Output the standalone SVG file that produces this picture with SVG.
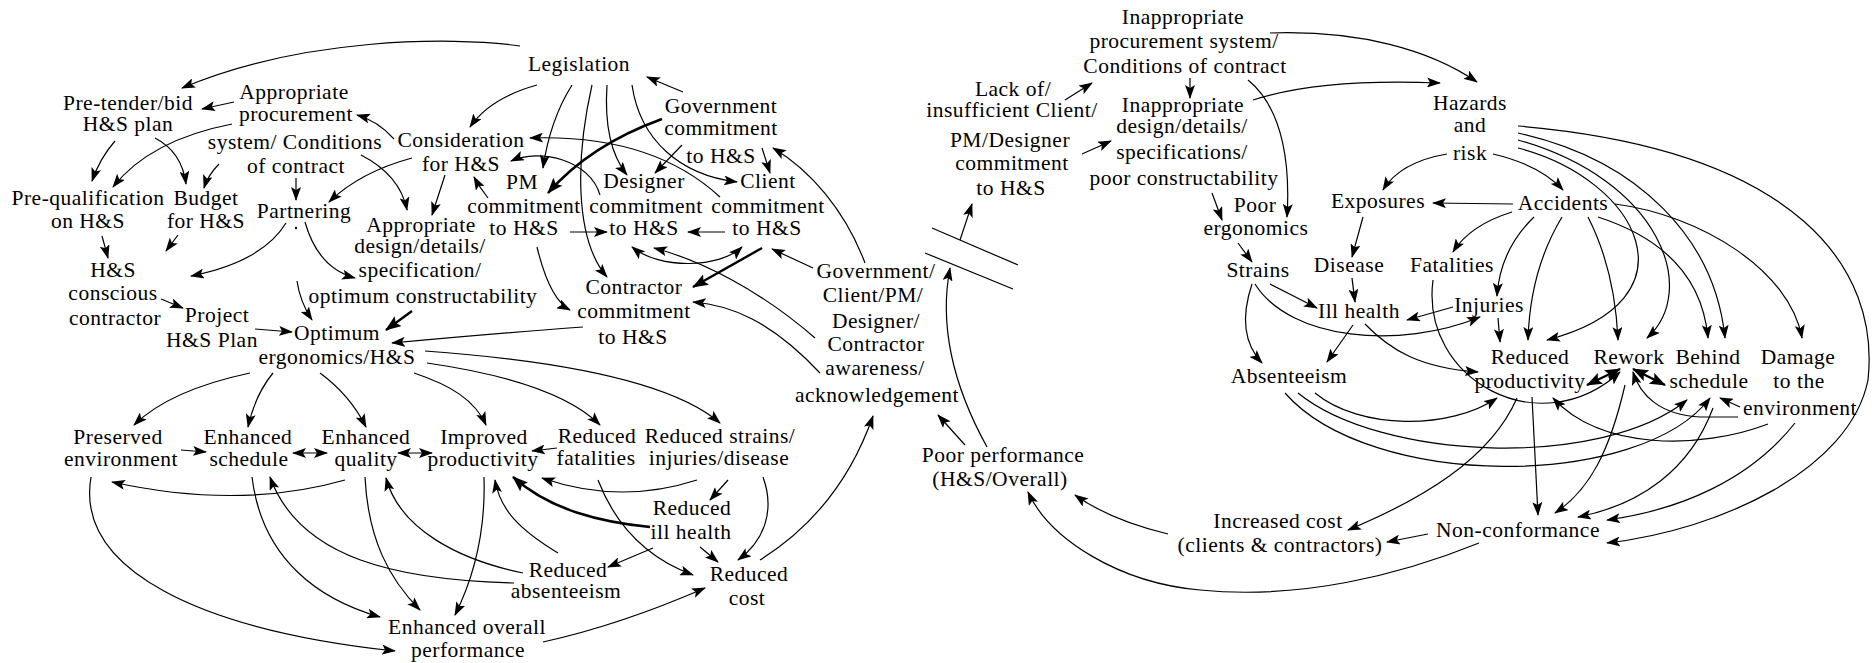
<svg xmlns="http://www.w3.org/2000/svg" width="1876" height="663" viewBox="0 0 1876 663">
<defs>
<marker id="a" viewBox="0 0 14 10" refX="13" refY="5" markerWidth="14" markerHeight="10" markerUnits="userSpaceOnUse" orient="auto-start-reverse"><path d="M0,0 L14,5 L0,10 L3,5 z" fill="#000"/></marker>
<marker id="ab" viewBox="0 0 16 12" refX="15" refY="6" markerWidth="16" markerHeight="12" markerUnits="userSpaceOnUse" orient="auto-start-reverse"><path d="M0,0 L16,6 L0,12 L3,6 z" fill="#000"/></marker>
<style>
text{font-family:"Liberation Serif","Times New Roman",serif;font-size:21.5px;letter-spacing:0.5px;text-anchor:middle;fill:#000}
.e{fill:none;stroke:#000;stroke-width:1.2;marker-end:url(#a)}
.b{fill:none;stroke:#000;stroke-width:2.4;marker-end:url(#ab)}
.d{marker-start:url(#a)}
.db{marker-start:url(#ab)}
.p{fill:none;stroke:#000;stroke-width:1.2}
</style>
</defs>
<rect width="1876" height="663" fill="#fff"/>
<g id="connectors">
<path class="e" d="M520,46 C450,36 300,38 182,88"/>
<path class="e" d="M234,102 L202,109"/>
<path class="e" d="M232,124 Q150,140 113,187"/>
<path class="e" d="M115,141 Q100,158 92,181"/>
<path class="e" d="M155,138 Q182,152 186,184"/>
<path class="e" d="M219,164 Q208,175 204,188"/>
<path class="e" d="M296,178 L296,200"/>
<path class="e" d="M394,139 Q378,121 357,115"/>
<path class="e" d="M361,155 Q400,175 407,210"/>
<path class="e" d="M412,158 Q360,172 329,202"/>
<path class="e" d="M445,175 L432,215"/>
<path class="e" d="M537,85 Q490,98 470,127"/>
<path class="e" d="M286,223 Q262,262 191,276"/>
<path class="e" d="M305,222 Q318,268 355,278"/>
<path class="e" d="M102,236 L108,258"/>
<path class="e" d="M178,235 L166,251"/>
<path class="e" d="M161,299 L183,308"/>
<circle cx="296" cy="228" r="1.2" fill="#000"/>
<path class="e" d="M297,281 Q300,302 312,320"/>
<path class="e" d="M255,329 L292,332"/>
<path class="b" d="M412,311 L386,330"/>
<path class="e" d="M583,327 Q500,333 392,343"/>
<path class="e" d="M683,92 L647,77"/>
<path class="e" d="M572,85 Q550,120 543,168"/>
<path class="e" d="M592,85 C575,160 575,240 607,277"/>
<path class="e" d="M607,85 Q603,145 627,175"/>
<path class="e" d="M632,85 C640,140 680,175 737,182"/>
<path class="b" d="M662,119 Q590,145 548,193"/>
<path class="e" d="M682,145 L655,173"/>
<path class="e" d="M762,148 L770,173"/>
<path class="e" d="M720,197 C680,160 620,135 530,138"/>
<path class="e" d="M600,195 C590,160 540,148 511,161"/>
<path class="e" d="M488,198 Q480,188 474,177"/>
<path class="e" d="M570,232 L607,232"/>
<path class="e" d="M725,232 L688,232"/>
<path class="e d" d="M632,247 C660,270 720,268 742,247"/>
<path class="b" d="M762,248 L693,287"/>
<path class="e" d="M813,268 L772,249"/>
<path class="e" d="M815,338 C760,290 700,260 654,248"/>
<path class="e" d="M820,373 C770,320 730,305 693,302"/>
<path class="e" d="M865,263 C845,210 810,170 773,148"/>
<path class="e" d="M537,247 C545,280 555,302 570,310"/>
<path class="e" d="M425,351 C550,360 670,380 720,423"/>
<path class="e" d="M427,363 C510,375 570,395 600,425"/>
<path class="e" d="M414,373 C450,385 475,400 486,425"/>
<path class="e" d="M320,373 Q350,395 366,427"/>
<path class="e" d="M273,373 Q255,395 248,427"/>
<path class="e" d="M250,373 Q170,390 134,425"/>
<path class="e" d="M181,450 L206,452"/>
<path class="e d" d="M293,453 L327,453"/>
<path class="e d" d="M398,453 L432,453"/>
<path class="e" d="M557,448 L532,451"/>
<path class="e" d="M345,480 Q240,510 112,482"/>
<path class="e" d="M91,477 C75,570 200,630 395,651"/>
<path class="e" d="M252,477 C262,560 320,600 380,617"/>
<path class="e" d="M365,477 C368,540 390,580 420,610"/>
<path class="e" d="M484,477 C486,540 470,585 455,615"/>
<path class="e" d="M523,573 C460,560 400,530 386,478"/>
<path class="e" d="M514,583 C400,580 300,560 270,477"/>
<path class="e" d="M558,553 C520,530 500,510 495,480"/>
<path class="b" d="M650,527 C600,522 550,510 513,477"/>
<path class="e" d="M697,480 Q620,505 542,478"/>
<path class="e" d="M598,480 Q625,550 693,575"/>
<path class="e" d="M728,480 L710,500"/>
<path class="e" d="M763,477 C775,510 765,540 738,560"/>
<path class="e" d="M700,547 L718,562"/>
<path class="e" d="M653,548 L608,567"/>
<path class="e" d="M543,642 Q620,625 705,588"/>
<path class="e" d="M760,560 Q840,510 873,416"/>
<path class="e" d="M965,445 L938,415"/>
<path class="e" d="M987,447 C950,380 940,320 950,268"/>
<path class="p" d="M932,228 L1018,265"/>
<path class="p" d="M925,253 L1013,289"/>
<path class="e" d="M960,240 L972,204"/>
<path class="e" d="M1065,100 L1092,83"/>
<path class="e" d="M1082,154 L1111,141"/>
<path class="e" d="M1190,78 L1190,98"/>
<path class="e" d="M1248,80 C1285,110 1290,170 1287,217"/>
<path class="e" d="M1212,193 L1222,220"/>
<path class="e" d="M1238,243 L1252,262"/>
<path class="e" d="M1270,33 C1360,30 1430,50 1477,82"/>
<path class="e" d="M1253,100 Q1320,78 1440,83"/>
<path class="e" d="M1447,154 Q1400,162 1383,190"/>
<path class="e" d="M1493,154 Q1540,165 1563,190"/>
<path class="e" d="M1513,204 L1433,203"/>
<path class="e" d="M1512,212 Q1470,225 1453,252"/>
<path class="e" d="M1534,217 Q1500,250 1497,296"/>
<path class="e" d="M1498,318 L1500,342"/>
<path class="e" d="M1562,217 Q1530,270 1528,340"/>
<path class="e" d="M1518,148 C1640,180 1700,300 1547,340"/>
<path class="e" d="M1588,217 Q1615,270 1618,340"/>
<path class="e" d="M1518,140 C1660,180 1700,290 1647,338"/>
<path class="e" d="M1598,217 Q1700,250 1708,338"/>
<path class="e" d="M1518,133 C1640,160 1715,240 1725,338"/>
<path class="e" d="M1615,204 C1700,215 1790,270 1802,338"/>
<path class="e" d="M1518,126 C1800,150 1880,270 1868,380 C1850,470 1720,530 1607,543"/>
<path class="b db" d="M1587,385 L1620,369"/>
<path class="b db" d="M1633,369 L1665,385"/>
<path class="e" d="M1532,397 L1538,515"/>
<path class="e" d="M1625,385 C1610,450 1590,490 1555,513"/>
<path class="e" d="M1713,408 C1690,470 1640,505 1578,517"/>
<path class="e" d="M1795,423 C1750,480 1680,510 1607,520"/>
<path class="e" d="M1428,534 L1387,542"/>
<path class="e" d="M1479,543 C1400,575 1300,600 1200,590 C1120,583 1050,540 1028,492"/>
<path class="e" d="M1168,534 Q1110,520 1075,495"/>
<path class="e" d="M1517,398 C1490,460 1420,500 1348,530"/>
<path class="e" d="M1365,324 C1390,350 1420,368 1478,372"/>
<path class="e" d="M1255,284 C1290,340 1400,350 1480,317"/>
<path class="e" d="M1270,284 L1317,308"/>
<path class="e" d="M1252,284 C1240,320 1245,345 1262,363"/>
<path class="e" d="M1363,217 L1352,257"/>
<path class="e" d="M1352,278 L1355,302"/>
<path class="e" d="M1453,307 L1407,320"/>
<path class="e" d="M1353,325 L1327,362"/>
<path class="e" d="M1740,407 L1720,398"/>
<path class="e" d="M1738,417 L1700,417 C1660,415 1640,395 1633,372"/>
<path class="e" d="M1768,424 C1700,450 1600,450 1553,398"/>
<path class="e" d="M1315,393 C1360,430 1450,430 1497,398"/>
<path class="e" d="M1298,393 C1380,460 1600,470 1687,400"/>
<path class="e" d="M1285,393 C1370,490 1640,490 1710,398"/>
<path class="e" d="M1433,280 C1420,380 1540,445 1620,372"/>
</g>
<g id="n_legislation"><text x="579" y="71">Legislation</text></g>
<g id="n_pretender"><text x="128" y="110">Pre-tender/bid</text><text x="128" y="131">H&amp;S plan</text></g>
<g id="n_approc"><text x="294" y="99">Appropriate</text><text x="296" y="121">procurement</text><text x="295" y="149">system/ Conditions</text><text x="296" y="173">of contract</text></g>
<g id="n_consid"><text x="461" y="147">Consideration</text><text x="461" y="171">for H&amp;S</text></g>
<g id="n_prequal"><text x="88" y="205">Pre-qualification</text><text x="88" y="228">on H&amp;S</text></g>
<g id="n_budget"><text x="206" y="205">Budget</text><text x="206" y="228">for H&amp;S</text></g>
<g id="n_partnering"><text x="304" y="218">Partnering</text></g>
<g id="n_appdesign"><text x="421" y="232">Appropriate</text><text x="420" y="253">design/details/</text><text x="420" y="277">specification/</text><text x="423" y="303">optimum constructability</text></g>
<g id="n_hsconscious"><text x="113" y="277">H&amp;S</text><text x="113" y="300">conscious</text><text x="115" y="325">contractor</text></g>
<g id="n_project"><text x="217" y="322">Project</text><text x="212" y="347">H&amp;S Plan</text></g>
<g id="n_optimum"><text x="337" y="340">Optimum</text><text x="337" y="364">ergonomics/H&amp;S</text></g>
<g id="n_govcommit"><text x="721" y="113">Government</text><text x="721" y="135">commitment</text><text x="721" y="163">to H&amp;S</text></g>
<g id="n_pm"><text x="522" y="189">PM</text><text x="524" y="213">commitment</text><text x="524" y="235">to H&amp;S</text></g>
<g id="n_designer"><text x="644" y="188">Designer</text><text x="646" y="213">commitment</text><text x="644" y="235">to H&amp;S</text></g>
<g id="n_client"><text x="768" y="188">Client</text><text x="768" y="213">commitment</text><text x="767" y="235">to H&amp;S</text></g>
<g id="n_contractor"><text x="634" y="294">Contractor</text><text x="634" y="318">commitment</text><text x="633" y="344">to H&amp;S</text></g>
<g id="n_awareness"><text x="876" y="278">Government/</text><text x="873" y="302">Client/PM/</text><text x="876" y="328">Designer/</text><text x="876" y="351">Contractor</text><text x="875" y="375">awareness/</text><text x="877" y="402">acknowledgement</text></g>
<g id="n_preserved"><text x="118" y="444">Preserved</text><text x="121" y="466">environment</text></g>
<g id="n_enhsched"><text x="248" y="444">Enhanced</text><text x="249" y="466">schedule</text></g>
<g id="n_enhqual"><text x="366" y="444">Enhanced</text><text x="366" y="466">quality</text></g>
<g id="n_improd"><text x="484" y="444">Improved</text><text x="483" y="466">productivity</text></g>
<g id="n_redfat"><text x="597" y="443">Reduced</text><text x="596" y="465">fatalities</text></g>
<g id="n_redstrain"><text x="720" y="443">Reduced strains/</text><text x="719" y="465">injuries/disease</text></g>
<g id="n_redill"><text x="692" y="515">Reduced</text><text x="691" y="539">ill health</text></g>
<g id="n_redabs"><text x="568" y="577">Reduced</text><text x="566" y="598">absenteeism</text></g>
<g id="n_redcost"><text x="749" y="581">Reduced</text><text x="747" y="605">cost</text></g>
<g id="n_enhoverall"><text x="467" y="634">Enhanced overall</text><text x="468" y="657">performance</text></g>
<g id="n_poorperf"><text x="1003" y="462">Poor performance</text><text x="1000" y="486">(H&amp;S/Overall)</text></g>
<g id="n_lack"><text x="1013" y="96">Lack of/</text><text x="1012" y="117">insufficient Client/</text><text x="1010" y="147">PM/Designer</text><text x="1012" y="170">commitment</text><text x="1011" y="195">to H&amp;S</text></g>
<g id="n_inproc"><text x="1183" y="24">Inappropriate</text><text x="1184" y="48">procurement system/</text><text x="1185" y="73">Conditions of contract</text></g>
<g id="n_indesign"><text x="1183" y="112">Inappropriate</text><text x="1182" y="133">design/details/</text><text x="1182" y="159">specifications/</text><text x="1184" y="185">poor constructability</text></g>
<g id="n_poorergo"><text x="1255" y="212">Poor</text><text x="1256" y="235">ergonomics</text></g>
<g id="n_strains"><text x="1258" y="277">Strains</text></g>
<g id="n_hazards"><text x="1470" y="110">Hazards</text><text x="1470" y="132">and</text><text x="1470" y="160">risk</text></g>
<g id="n_exposures"><text x="1378" y="208">Exposures</text></g>
<g id="n_accidents"><text x="1563" y="210">Accidents</text></g>
<g id="n_disease"><text x="1349" y="272">Disease</text></g>
<g id="n_fatalities"><text x="1452" y="272">Fatalities</text></g>
<g id="n_illhealth"><text x="1359" y="318">Ill health</text></g>
<g id="n_injuries"><text x="1489" y="312">Injuries</text></g>
<g id="n_absent"><text x="1289" y="383">Absenteeism</text></g>
<g id="n_redprod"><text x="1530" y="364">Reduced</text><text x="1530" y="388">productivity</text></g>
<g id="n_rework"><text x="1629" y="364">Rework</text></g>
<g id="n_behind"><text x="1708" y="364">Behind</text><text x="1709" y="388">schedule</text></g>
<g id="n_damage"><text x="1798" y="364">Damage</text><text x="1799" y="388">to the</text><text x="1800" y="415">environment</text></g>
<g id="n_noncon"><text x="1518" y="537">Non-conformance</text></g>
<g id="n_inccost"><text x="1278" y="528">Increased cost</text><text x="1280" y="552">(clients &amp; contractors)</text></g>
</svg>
